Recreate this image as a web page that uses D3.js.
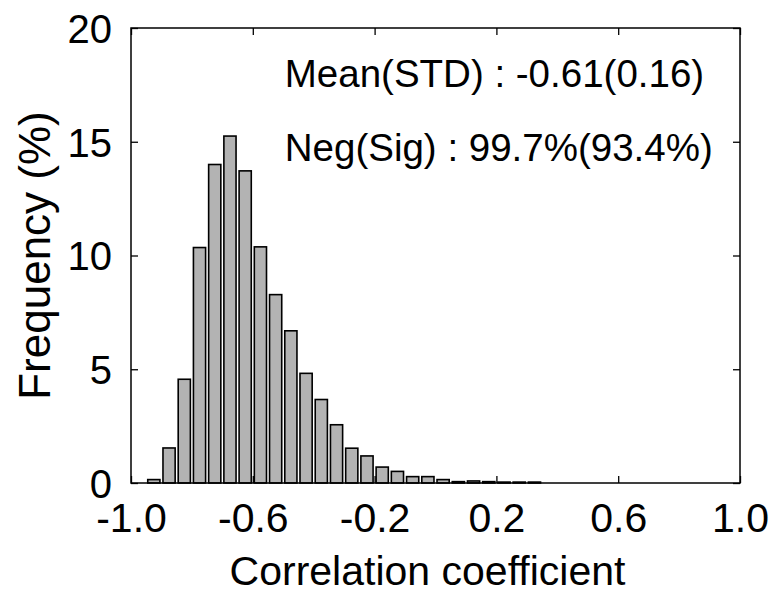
<!DOCTYPE html>
<html><head><meta charset="utf-8">
<script src="https://cdn.jsdelivr.net/npm/d3@7"></script>
<style>body{margin:0;background:#fff}svg{display:block}text{font-family:"Liberation Sans",Arial,sans-serif;fill:#000}</style>
</head><body>
<script>
const binCenters = [-0.925,-0.875,-0.825,-0.775,-0.725,-0.675,-0.625,-0.575,-0.525,-0.475,-0.425,-0.375,-0.325,-0.275,-0.225,-0.175,-0.125,-0.075,-0.025,0.025,0.075,0.125,0.175,0.225,0.275,0.325];
const frequency = [0.15,1.54,4.56,10.35,14.0,15.25,13.72,10.38,8.28,6.69,4.82,3.67,2.56,1.53,1.19,0.70,0.51,0.28,0.28,0.15,0.06,0.09,0.06,0.04,0.04,0.04];
const xTicks = [-1.0,-0.6,-0.2,0.2,0.6,1.0];
const xTickLabels = ["-1.0","-0.6","-0.2","0.2","0.6","1.0"];
const yTicks = [0,5,10,15,20];
const annotations = ["Mean(STD) : -0.61(0.16)","Neg(Sig) : 99.7%(93.4%)"];
const xLabel = "Correlation coefficient";
const yLabel = "Frequency (%)";

const W=776,H=594;
const m={l:131,t:28,r:36,b:111};
const pw=W-m.l-m.r, ph=H-m.t-m.b;
const svg=d3.select("body").append("svg").attr("width",W).attr("height",H);
const g=svg.append("g").attr("transform",`translate(${m.l},${m.t})`);
const x=d3.scaleLinear().domain([-1,1]).range([0,pw]);
const y=d3.scaleLinear().domain([0,20]).range([ph,0]);
const binW=0.05, barFrac=0.8;

g.selectAll("rect.bar").data(binCenters).join("rect").attr("class","bar")
 .attr("x",(d)=>x(d-binW*barFrac/2)).attr("width",(d)=>x(d+binW*barFrac/2)-x(d-binW*barFrac/2))
 .attr("y",(d,i)=>y(frequency[i])).attr("height",(d,i)=>y(0)-y(frequency[i]))
 .attr("fill","#b3b3b3").attr("stroke","#000").attr("stroke-width",1.6);

const tl=7;
const ax=g.append("g").attr("transform",`translate(0,${ph})`).call(d3.axisBottom(x).tickValues(xTicks).tickSize(-tl).tickPadding(20).tickFormat((d,i)=>xTickLabels[i]));
const axT=g.append("g").call(d3.axisTop(x).tickValues(xTicks).tickSize(-tl).tickFormat(""));
const ay=g.append("g").call(d3.axisLeft(y).tickValues(yTicks).tickSize(-tl).tickPadding(19).tickFormat(d3.format("d")));
const ayR=g.append("g").attr("transform",`translate(${pw},0)`).call(d3.axisRight(y).tickValues(yTicks).tickSize(-tl).tickFormat(""));
[ax,axT,ay,ayR].forEach(a=>{a.select(".domain").remove();a.selectAll("line").attr("stroke","#000").attr("stroke-width",1.3);});
ax.selectAll("text").attr("font-size",41).attr("font-family","Liberation Sans, Arial, sans-serif").attr("dy","0.71em");
ay.selectAll("text").attr("font-size",40).attr("font-family","Liberation Sans, Arial, sans-serif").attr("dy","0.36em");
g.append("rect").attr("width",pw).attr("height",ph).attr("fill","none").attr("stroke","#000").attr("stroke-width",1.5);

g.selectAll("text.ann").data(annotations).join("text").attr("class","ann")
 .attr("x",x(-0.495)).attr("y",(d,i)=>59+i*74).attr("font-size",38.5).text(d=>d);

svg.append("text").attr("x",m.l+pw/2-8).attr("y",585).attr("text-anchor","middle").attr("font-size",41).text(xLabel);
svg.append("text").attr("transform",`translate(50,${m.t+ph/2}) rotate(-90)`).attr("text-anchor","middle").attr("font-size",44).text(yLabel);
</script>
</body></html>
